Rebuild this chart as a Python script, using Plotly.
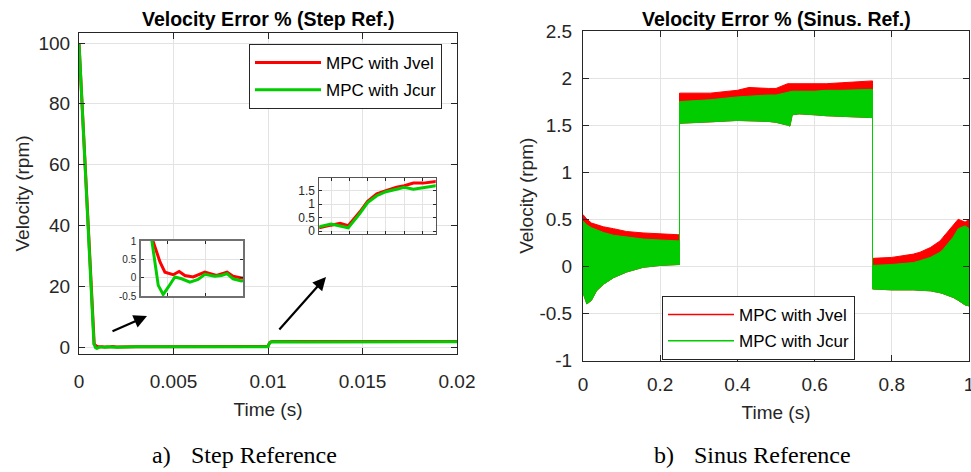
import plotly.graph_objects as go

# ---------------- Data: step reference (velocity error %, time in s) ----------------
step_t_jvel = [0, 0.000805, 0.000898, 0.000964, 0.001074, 0.001154, 0.00123, 0.00134, 0.001496,
               0.001652, 0.001793, 0.001872, 0.001984, 0.003, 0.005, 0.007, 0.009, 0.009918,
               0.00995, 0.009975, 0.009997, 0.010029, 0.01005, 0.010075, 0.0101, 0.010129,
               0.01015, 0.010175, 0.010202, 0.010236, 0.012, 0.015, 0.018, 0.02]
step_v_jvel = [100, 1.0, 0.43, 0.15, 0.08, 0.17, 0.06, 0.02, 0.15,
               0.06, 0.15, 0.04, -0.01, 0.1, 0.12, 0.1, 0.12, 0.12,
               0.22, 0.29, 0.20, 0.72, 1.11, 1.39, 1.51, 1.64,
               1.69, 1.79, 1.79, 1.85, 1.85, 1.8, 1.82, 1.8]

step_t_jcur = [0, 0.00079, 0.000875, 0.000941, 0.001008, 0.001097, 0.001186, 0.001297, 0.001407,
               0.001496, 0.001629, 0.001718, 0.001793, 0.001872, 0.001984, 0.003, 0.005, 0.007,
               0.009, 0.009918, 0.00995, 0.009975, 0.009997, 0.010029, 0.01005, 0.010075, 0.0101,
               0.010129, 0.01015, 0.010175, 0.010202, 0.010236, 0.012, 0.015, 0.018, 0.02]
step_v_jcur = [100, 1.0, -0.21, -0.46, -0.26, 0.02, -0.03, -0.12, -0.05,
               0.09, 0.04, 0.06, 0.11, -0.03, -0.09, 0.05, 0.1, 0.1,
               0.15, 0.16, 0.26, 0.19, 0.12, 0.66, 1.06, 1.32, 1.47,
               1.56, 1.63, 1.56, 1.61, 1.69, 1.65, 1.7, 1.68, 1.7]

# ---------------- Data: sinus reference (envelopes of the oscillating error) ----------------
sin_t = [0, 0.01, 0.022, 0.035, 0.053, 0.079, 0.113, 0.156, 0.2, 0.25,
         0.25, 0.33, 0.40, 0.43, 0.48, 0.50, 0.53, 0.536, 0.542, 0.56, 0.60, 0.63, 0.67, 0.75,
         0.75, 0.80, 0.856, 0.873, 0.90, 0.925, 0.933, 0.959, 0.972, 0.99, 1.0]
sin_jvel_hi = [0.55, 0.50, 0.46, 0.44, 0.42, 0.40, 0.37, 0.355, 0.345, 0.335,
               1.84, 1.84, 1.87, 1.90, 1.89, 1.89, 1.94, 1.94, 1.94, 1.94, 1.94, 1.94, 1.95, 1.97,
               0.085, 0.095, 0.13, 0.15, 0.20, 0.27, 0.31, 0.43, 0.50, 0.47, 0.50]
sin_jcur_hi = [0.48, 0.44, 0.41, 0.39, 0.36, 0.33, 0.31, 0.29, 0.28, 0.27,
               1.75, 1.77, 1.80, 1.81, 1.82, 1.82, 1.85, 1.855, 1.86, 1.86, 1.86, 1.87, 1.87, 1.88,
               0.01, 0.02, 0.04, 0.06, 0.095, 0.15, 0.18, 0.31, 0.40, 0.43, 0.40]
sin_jcur_lo = [-0.28, -0.40, -0.36, -0.26, -0.19, -0.12, -0.06, -0.01, 0.01, 0.02,
               1.52, 1.535, 1.55, 1.55, 1.54, 1.53, 1.50, 1.49, 1.61, 1.62, 1.61, 1.60, 1.59, 1.58,
               -0.24, -0.25, -0.25, -0.25, -0.26, -0.28, -0.29, -0.33, -0.36, -0.41, -0.42]

# tick labels
step_x_ticks = [0, 0.005, 0.01, 0.015, 0.02]
step_x_text = ["0", "0.005", "0.01", "0.015", "0.02"]
step_y_ticks = [0, 20, 40, 60, 80, 100]
sin_x_ticks = [0, 0.2, 0.4, 0.6, 0.8, 1]
sin_x_text = ["0", "0.2", "0.4", "0.6", "0.8", "1"]
sin_y_ticks = [-1, -0.5, 0, 0.5, 1, 1.5, 2, 2.5]
sin_y_text = ["-1", "-0.5", "0", "0.5", "1", "1.5", "2", "2.5"]
inset1_y_ticks = [-0.5, 0, 0.5, 1]
inset1_y_text = ["-0.5", "0", "0.5", "1"]
inset2_y_ticks = [0, 0.5, 1, 1.5]
inset2_y_text = ["0", "0.5", "1", "1.5"]

RED = "#ff0000"
GREEN = "#00cc00"
AX = "#262626"
GRID = "#e3e3e3"
FONT = "Liberation Sans, Arial, sans-serif"
SERIF = "Liberation Serif, Times New Roman, serif"

W, H = 971, 472
def px(x):
    return x / W
def py(y):
    return 1 - y / H

fig = go.Figure()

# step plots: main + two insets
for xa, ya, w in [("x", "y", 3), ("x3", "y3", 3), ("x4", "y4", 3)]:
    main = xa == "x"
    fig.add_trace(go.Scatter(x=step_t_jvel, y=step_v_jvel, mode="lines",
                             line=dict(color=RED, width=w), name="MPC with Jvel",
                             xaxis=xa, yaxis=ya, showlegend=main, legend="legend",
                             legendgroup="a"))
    fig.add_trace(go.Scatter(x=step_t_jcur, y=step_v_jcur, mode="lines",
                             line=dict(color=GREEN, width=w), name="MPC with Jcur",
                             xaxis=xa, yaxis=ya, showlegend=main, legend="legend",
                             legendgroup="b"))

# sinus plot: envelopes drawn as filled bands
band_x = sin_t + sin_t[::-1]
fig.add_trace(go.Scatter(x=band_x, y=sin_jvel_hi + sin_jcur_lo[::-1], fill="toself",
                         mode="lines", line=dict(color=RED, width=1), fillcolor=RED,
                         xaxis="x2", yaxis="y2", showlegend=False, hoverinfo="skip"))
fig.add_trace(go.Scatter(x=band_x, y=sin_jcur_hi + sin_jcur_lo[::-1], fill="toself",
                         mode="lines", line=dict(color=GREEN, width=1), fillcolor=GREEN,
                         xaxis="x2", yaxis="y2", showlegend=False, hoverinfo="skip"))
fig.add_trace(go.Scatter(x=[None], y=[None], mode="lines", line=dict(color=RED, width=1.5),
                         name="MPC with Jvel", xaxis="x2", yaxis="y2", legend="legend2",
                         legendgroup="c"))
fig.add_trace(go.Scatter(x=[None], y=[None], mode="lines", line=dict(color=GREEN, width=1.5),
                         name="MPC with Jcur", xaxis="x2", yaxis="y2", legend="legend2",
                         legendgroup="d"))

def axis(**kw):
    d = dict(showline=True, linecolor=AX, linewidth=1, mirror="ticks", ticks="inside",
             ticklen=6, tickcolor=AX, showgrid=True, gridcolor=GRID, gridwidth=1,
             zeroline=False, tickfont=dict(family=FONT, size=19, color=AX),
             automargin=False, fixedrange=True, ticklabeloverflow="allow")
    d.update(kw)
    return d

title_font = dict(family=FONT, size=19, color=AX)

fig.update_layout(
    width=W, height=H, autosize=False,
    margin=dict(l=0, r=0, t=0, b=0),
    paper_bgcolor="white", plot_bgcolor="white",
    font=dict(family=FONT, color=AX),
    xaxis=axis(domain=[px(79), px(457)], range=[0, 0.02], tickmode="array",
               tickvals=step_x_ticks, ticktext=step_x_text, anchor="y",
               ticklabelstandoff=10,
               title=dict(text="Time (s)", font=title_font, standoff=11)),
    yaxis=axis(domain=[py(354), py(33)], range=[-2.3, 103.3], tickmode="array",
               tickvals=step_y_ticks, anchor="x", ticklabelstandoff=4,
               title=dict(text="Velocity (rpm)", font=title_font, standoff=3)),
    xaxis2=axis(domain=[px(583), px(969)], range=[0, 1], tickmode="array",
                tickvals=sin_x_ticks, ticktext=sin_x_text, anchor="y2",
                ticklabelstandoff=7,
                title=dict(text="Time (s)", font=title_font, standoff=11)),
    yaxis2=axis(domain=[py(360.5), py(31)], range=[-1, 2.5], tickmode="array",
                tickvals=sin_y_ticks, ticktext=sin_y_text, anchor="x2",
                ticklabelstandoff=6,
                title=dict(text="Velocity (rpm)", font=title_font, standoff=0)),
    xaxis3=axis(domain=[px(141), px(243)], range=[0.000645, 0.002005], tickmode="linear",
                tick0=0.001, dtick=0.0005, anchor="y3", showticklabels=False, ticklen=3,
                linecolor="#707070", linewidth=1.5),
    yaxis3=axis(domain=[py(296), py(241)], range=[-0.5, 1.0], tickmode="array",
                tickvals=inset1_y_ticks, ticktext=inset1_y_text, anchor="x3", ticklen=3,
                linecolor="#707070", linewidth=1.5, ticklabelstandoff=1,
                tickfont=dict(family=FONT, size=10, color=AX)),
    xaxis4=axis(domain=[px(319.3), px(435.7)], range=[0.009918, 0.010236], tickmode="linear",
                tick0=0.01, dtick=0.00005, anchor="y4", showticklabels=False, ticklen=3,
                linecolor="#555555"),
    yaxis4=axis(domain=[py(234), py(178.3)], range=[-0.11, 1.97], tickmode="array",
                tickvals=inset2_y_ticks, ticktext=inset2_y_text, anchor="x4", ticklen=3,
                linecolor="#555555", ticklabelstandoff=1,
                tickfont=dict(family=FONT, size=12, color=AX)),
    legend=dict(x=px(249), y=py(44), xanchor="left", yanchor="top", bgcolor="white",
                bordercolor=AX, borderwidth=1, font=dict(family=FONT, size=17, color="black"),
                itemwidth=66, tracegroupgap=2),
    legend2=dict(x=px(662), y=py(296), xanchor="left", yanchor="top", bgcolor="white",
                 bordercolor=AX, borderwidth=1, font=dict(family=FONT, size=17, color="black"),
                 itemwidth=66, tracegroupgap=1),
    showlegend=True,
)

annotations = [
    dict(text="<b>Velocity Error % (Step Ref.)</b>", x=px(268), y=py(19), xref="paper",
         yref="paper", showarrow=False, font=dict(family=FONT, size=19.5, color="black"),
         xanchor="center", yanchor="middle"),
    dict(text="<b>Velocity Error % (Sinus. Ref.)</b>", x=px(776), y=py(19), xref="paper",
         yref="paper", showarrow=False, font=dict(family=FONT, size=19.5, color="black"),
         xanchor="center", yanchor="middle"),
    dict(text="a)", x=px(150), y=py(455), xref="paper", yref="paper", showarrow=False,
         font=dict(family=SERIF, size=24, color="black"), xanchor="left", yanchor="middle"),
    dict(text="Step Reference", x=px(189), y=py(455), xref="paper", yref="paper",
         showarrow=False, font=dict(family=SERIF, size=24, color="black"),
         xanchor="left", yanchor="middle"),
    dict(text="b)", x=px(652), y=py(455), xref="paper", yref="paper", showarrow=False,
         font=dict(family=SERIF, size=24, color="black"), xanchor="left", yanchor="middle"),
    dict(text="Sinus Reference", x=px(692), y=py(455), xref="paper", yref="paper",
         showarrow=False, font=dict(family=SERIF, size=24, color="black"),
         xanchor="left", yanchor="middle"),
    # zoom arrows
    dict(text="", x=px(147), y=py(316), xref="paper", yref="paper", showarrow=True,
         ax=-36, ay=16, arrowhead=2, arrowsize=1.2, arrowwidth=2.2, arrowcolor="black"),
    dict(text="", x=px(326), y=py(277), xref="paper", yref="paper", showarrow=True,
         ax=-48, ay=54, arrowhead=2, arrowsize=1.2, arrowwidth=2.2, arrowcolor="black"),
]
fig.update_layout(annotations=annotations)

fig.write_html("out.html", config={"displayModeBar": False},
               post_script="document.body.style.margin='0';document.body.style.overflow='hidden';")
